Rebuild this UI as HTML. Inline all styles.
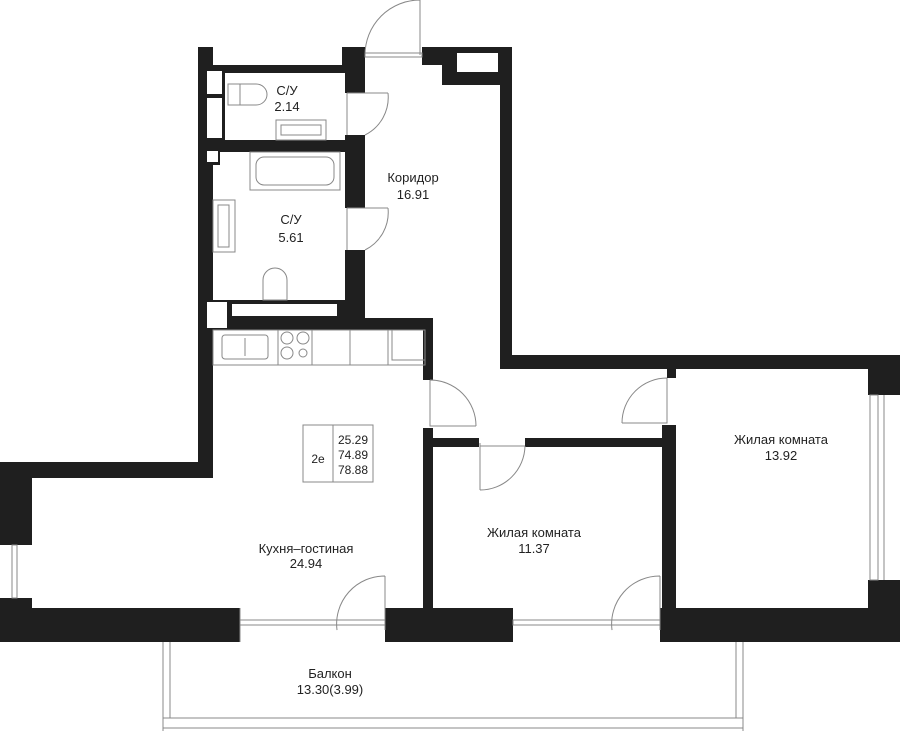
<!DOCTYPE html>
<html><head><meta charset="utf-8"><style>
html,body{margin:0;padding:0;background:#fff;}
svg{display:block}
text{font-family:"Liberation Sans",sans-serif;font-size:13px;fill:#222;text-anchor:middle}
</style></head><body>
<svg width="900" height="731" viewBox="0 0 900 731" xmlns="http://www.w3.org/2000/svg">
<g fill="#1f1f1f">
<rect x="198" y="47" width="15" height="420"/>
<rect x="198" y="65" width="27" height="87"/>
<rect x="198" y="300" width="32" height="30"/>
<rect x="198" y="145" width="22" height="20"/>
<rect x="213" y="65" width="132" height="8"/>
<rect x="342" y="47" width="23" height="26"/>
<rect x="345" y="47" width="20" height="46"/>
<rect x="345" y="135" width="20" height="73"/>
<rect x="345" y="250" width="20" height="80"/>
<rect x="213" y="140" width="132" height="12"/>
<rect x="213" y="300" width="132" height="30"/>
<rect x="213" y="318" width="220" height="12"/>
<rect x="422" y="47" width="90" height="18"/>
<rect x="442" y="47" width="70" height="38"/>
<rect x="500" y="47" width="12" height="322"/>
<rect x="500" y="355" width="400" height="14"/>
<rect x="868" y="355" width="32" height="40"/>
<rect x="423" y="318" width="10" height="62"/>
<rect x="423" y="428" width="10" height="182"/>
<rect x="423" y="438" width="56" height="9"/>
<rect x="525" y="438" width="150" height="9"/>
<rect x="667" y="369" width="9" height="9"/>
<rect x="662" y="425" width="14" height="185"/>
<rect x="0" y="462" width="213" height="16"/>
<rect x="0" y="462" width="32" height="83"/>
<rect x="0" y="598" width="32" height="44"/>
<rect x="868" y="580" width="32" height="62"/>
<rect x="0" y="608" width="240" height="34"/>
<rect x="385" y="608" width="128" height="34"/>
<rect x="660" y="608" width="240" height="34"/>
</g>
<g fill="#fff" stroke="none">
<rect x="457" y="53" width="41" height="19"/>
<rect x="207" y="71" width="15" height="23"/>
<rect x="207" y="98" width="15" height="40"/>
<rect x="207" y="151" width="11" height="11"/>
<rect x="207" y="302" width="20" height="26"/>
<rect x="232" y="304" width="105" height="12"/>
</g>
<g fill="none" stroke="#888" stroke-width="1">
<rect x="365" y="53" width="57" height="4"/>
<path d="M420 0 V55 M365 55 A55 55 0 0 1 420 0"/>
<path d="M347 93 H388 M365 135 A42 42 0 0 0 388 93 M347 93 V135"/>
<path d="M347 208 H388 M365 250 A42 42 0 0 0 388 208 M347 208 V250"/>
<path d="M430 380 V426 H476 M476 426 A46 46 0 0 0 430 380"/>
<path d="M480 443 V490 M480 446 H525 M480 490 A45 45 0 0 0 525 446"/>
<path d="M667 378 V423 H622 M622 423 A45 45 0 0 1 667 378"/>
<path d="M385 576 V630 M385 576 A48 48 0 0 0 337 630"/>
<path d="M660 576 V630 M660 576 A48 48 0 0 0 612 630"/>
<rect x="240" y="620" width="145" height="5"/><line x1="240" y1="608" x2="240" y2="642"/>
<rect x="513" y="620" width="147" height="5"/>
<rect x="12" y="545" width="5" height="53"/><rect x="870" y="395" width="8" height="185"/><line x1="884" y1="395" x2="884" y2="580"/>
<path d="M163 642 V731 M743 642 V731 M163 718 H743 M163 728 H743 M170 642 V718 M736 642 V718"/>
<rect x="276" y="120" width="50" height="20"/><rect x="281" y="125" width="40" height="10"/>
<rect x="250" y="152" width="90" height="38"/><rect x="256" y="157" width="78" height="28" rx="8"/>
<rect x="213" y="200" width="22" height="52"/><rect x="218" y="205" width="11" height="42"/>
<path d="M228 84 h12 v21 h-12 z M240 84 h16 a11 10.5 0 0 1 0 21 h-16"/>
<path d="M263 300 v-20 a12 12 0 0 1 24 0 v20 z"/>
<rect x="213" y="330" width="212" height="35"/>
<rect x="222" y="335" width="46" height="24" rx="3"/><path d="M245 338 V356"/>
<line x1="278" y1="330" x2="278" y2="365"/><line x1="312" y1="330" x2="312" y2="365"/><line x1="350" y1="330" x2="350" y2="365"/><line x1="388" y1="330" x2="388" y2="365"/>
<rect x="392" y="330" width="33" height="30"/>
<circle cx="287" cy="338" r="6"/><circle cx="303" cy="338" r="6"/><circle cx="287" cy="353" r="6"/><circle cx="303" cy="353" r="4"/>
<rect x="303" y="425" width="70" height="57"/><line x1="333" y1="425" x2="333" y2="482"/>
</g>
<text x="287" y="95">С/У</text><text x="287" y="111">2.14</text>
<text x="413" y="182">Коридор</text><text x="413" y="199">16.91</text>
<text x="291" y="224">С/У</text><text x="291" y="242">5.61</text>
<text x="318" y="463" style="font-size:12px">2е</text>
<text x="353" y="444" style="font-size:12px">25.29</text><text x="353" y="459" style="font-size:12px">74.89</text><text x="353" y="474" style="font-size:12px">78.88</text>
<text x="306" y="553">Кухня–гостиная</text><text x="306" y="568">24.94</text>
<text x="534" y="537">Жилая комната</text><text x="534" y="553">11.37</text>
<text x="781" y="444">Жилая комната</text><text x="781" y="460">13.92</text>
<text x="330" y="678">Балкон</text><text x="330" y="694">13.30(3.99)</text>
</svg>
</body></html>
